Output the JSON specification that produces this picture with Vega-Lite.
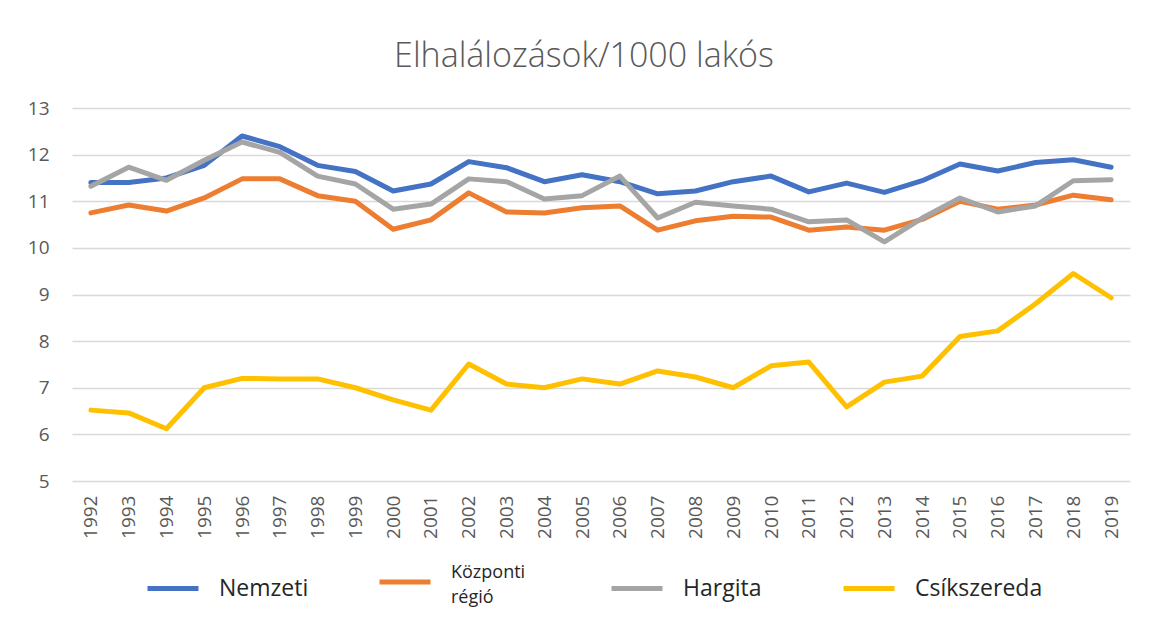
{
  "$schema": "https://vega.github.io/schema/vega-lite/v6.json",
  "width": 1058,
  "height": 373,
  "autosize": {"type": "none"},
  "padding": {"left": 72, "top": 108, "right": 20, "bottom": 138},
  "background": "white",
  "title": {
    "text": "Elhalálozások/1000 lakós",
    "font": "Open Sans",
    "fontSize": 34,
    "fontWeight": 300,
    "color": "#595959",
    "anchor": "middle",
    "offset": 25,
    "dx": -17
  },
  "config": {
    "view": {"stroke": null},
    "axis": {
      "labelFont": "Open Sans",
      "labelFontSize": 19,
      "labelColor": "#595959",
      "gridColor": "#d9d9d9",
      "gridWidth": 1.5,
      "domain": false,
      "ticks": false
    }
  },
  "data": {
    "values": [
      {"year": "1992", "series": "Nemzeti", "value": 11.4},
      {"year": "1993", "series": "Nemzeti", "value": 11.4},
      {"year": "1994", "series": "Nemzeti", "value": 11.5},
      {"year": "1995", "series": "Nemzeti", "value": 11.77},
      {"year": "1996", "series": "Nemzeti", "value": 12.4},
      {"year": "1997", "series": "Nemzeti", "value": 12.17},
      {"year": "1998", "series": "Nemzeti", "value": 11.77},
      {"year": "1999", "series": "Nemzeti", "value": 11.64},
      {"year": "2000", "series": "Nemzeti", "value": 11.22},
      {"year": "2001", "series": "Nemzeti", "value": 11.37},
      {"year": "2002", "series": "Nemzeti", "value": 11.85},
      {"year": "2003", "series": "Nemzeti", "value": 11.72},
      {"year": "2004", "series": "Nemzeti", "value": 11.42},
      {"year": "2005", "series": "Nemzeti", "value": 11.57},
      {"year": "2006", "series": "Nemzeti", "value": 11.42},
      {"year": "2007", "series": "Nemzeti", "value": 11.16},
      {"year": "2008", "series": "Nemzeti", "value": 11.22},
      {"year": "2009", "series": "Nemzeti", "value": 11.42},
      {"year": "2010", "series": "Nemzeti", "value": 11.54},
      {"year": "2011", "series": "Nemzeti", "value": 11.2},
      {"year": "2012", "series": "Nemzeti", "value": 11.39},
      {"year": "2013", "series": "Nemzeti", "value": 11.19},
      {"year": "2014", "series": "Nemzeti", "value": 11.44},
      {"year": "2015", "series": "Nemzeti", "value": 11.8},
      {"year": "2016", "series": "Nemzeti", "value": 11.65},
      {"year": "2017", "series": "Nemzeti", "value": 11.83},
      {"year": "2018", "series": "Nemzeti", "value": 11.89},
      {"year": "2019", "series": "Nemzeti", "value": 11.73},
      {"year": "1992", "series": "Központi régió", "value": 10.75},
      {"year": "1993", "series": "Központi régió", "value": 10.92},
      {"year": "1994", "series": "Központi régió", "value": 10.79},
      {"year": "1995", "series": "Központi régió", "value": 11.07},
      {"year": "1996", "series": "Központi régió", "value": 11.48},
      {"year": "1997", "series": "Központi régió", "value": 11.48},
      {"year": "1998", "series": "Központi régió", "value": 11.12},
      {"year": "1999", "series": "Központi régió", "value": 11.0},
      {"year": "2000", "series": "Központi régió", "value": 10.4},
      {"year": "2001", "series": "Központi régió", "value": 10.6},
      {"year": "2002", "series": "Központi régió", "value": 11.18},
      {"year": "2003", "series": "Központi régió", "value": 10.77},
      {"year": "2004", "series": "Központi régió", "value": 10.75},
      {"year": "2005", "series": "Központi régió", "value": 10.86},
      {"year": "2006", "series": "Központi régió", "value": 10.9},
      {"year": "2007", "series": "Központi régió", "value": 10.38},
      {"year": "2008", "series": "Központi régió", "value": 10.58},
      {"year": "2009", "series": "Központi régió", "value": 10.68},
      {"year": "2010", "series": "Központi régió", "value": 10.66},
      {"year": "2011", "series": "Központi régió", "value": 10.38},
      {"year": "2012", "series": "Központi régió", "value": 10.45},
      {"year": "2013", "series": "Központi régió", "value": 10.38},
      {"year": "2014", "series": "Központi régió", "value": 10.61},
      {"year": "2015", "series": "Központi régió", "value": 11.0},
      {"year": "2016", "series": "Központi régió", "value": 10.83},
      {"year": "2017", "series": "Központi régió", "value": 10.92},
      {"year": "2018", "series": "Központi régió", "value": 11.13},
      {"year": "2019", "series": "Központi régió", "value": 11.03},
      {"year": "1992", "series": "Hargita", "value": 11.32},
      {"year": "1993", "series": "Hargita", "value": 11.73},
      {"year": "1994", "series": "Hargita", "value": 11.45},
      {"year": "1995", "series": "Hargita", "value": 11.88},
      {"year": "1996", "series": "Hargita", "value": 12.27},
      {"year": "1997", "series": "Hargita", "value": 12.05},
      {"year": "1998", "series": "Hargita", "value": 11.54},
      {"year": "1999", "series": "Hargita", "value": 11.37},
      {"year": "2000", "series": "Hargita", "value": 10.83},
      {"year": "2001", "series": "Hargita", "value": 10.94},
      {"year": "2002", "series": "Hargita", "value": 11.48},
      {"year": "2003", "series": "Hargita", "value": 11.42},
      {"year": "2004", "series": "Hargita", "value": 11.05},
      {"year": "2005", "series": "Hargita", "value": 11.12},
      {"year": "2006", "series": "Hargita", "value": 11.54},
      {"year": "2007", "series": "Hargita", "value": 10.64},
      {"year": "2008", "series": "Hargita", "value": 10.98},
      {"year": "2009", "series": "Hargita", "value": 10.9},
      {"year": "2010", "series": "Hargita", "value": 10.83},
      {"year": "2011", "series": "Hargita", "value": 10.56},
      {"year": "2012", "series": "Hargita", "value": 10.6},
      {"year": "2013", "series": "Hargita", "value": 10.13},
      {"year": "2014", "series": "Hargita", "value": 10.64},
      {"year": "2015", "series": "Hargita", "value": 11.07},
      {"year": "2016", "series": "Hargita", "value": 10.77},
      {"year": "2017", "series": "Hargita", "value": 10.9},
      {"year": "2018", "series": "Hargita", "value": 11.44},
      {"year": "2019", "series": "Hargita", "value": 11.46},
      {"year": "1992", "series": "Csíkszereda", "value": 6.52},
      {"year": "1993", "series": "Csíkszereda", "value": 6.46},
      {"year": "1994", "series": "Csíkszereda", "value": 6.12},
      {"year": "1995", "series": "Csíkszereda", "value": 7.0},
      {"year": "1996", "series": "Csíkszereda", "value": 7.2},
      {"year": "1997", "series": "Csíkszereda", "value": 7.19},
      {"year": "1998", "series": "Csíkszereda", "value": 7.19},
      {"year": "1999", "series": "Csíkszereda", "value": 7.0},
      {"year": "2000", "series": "Csíkszereda", "value": 6.74},
      {"year": "2001", "series": "Csíkszereda", "value": 6.52},
      {"year": "2002", "series": "Csíkszereda", "value": 7.51},
      {"year": "2003", "series": "Csíkszereda", "value": 7.08},
      {"year": "2004", "series": "Csíkszereda", "value": 7.0},
      {"year": "2005", "series": "Csíkszereda", "value": 7.19},
      {"year": "2006", "series": "Csíkszereda", "value": 7.08},
      {"year": "2007", "series": "Csíkszereda", "value": 7.36},
      {"year": "2008", "series": "Csíkszereda", "value": 7.23},
      {"year": "2009", "series": "Csíkszereda", "value": 7.0},
      {"year": "2010", "series": "Csíkszereda", "value": 7.47},
      {"year": "2011", "series": "Csíkszereda", "value": 7.55},
      {"year": "2012", "series": "Csíkszereda", "value": 6.59},
      {"year": "2013", "series": "Csíkszereda", "value": 7.12},
      {"year": "2014", "series": "Csíkszereda", "value": 7.25},
      {"year": "2015", "series": "Csíkszereda", "value": 8.1},
      {"year": "2016", "series": "Csíkszereda", "value": 8.22},
      {"year": "2017", "series": "Csíkszereda", "value": 8.8},
      {"year": "2018", "series": "Csíkszereda", "value": 9.45},
      {"year": "2019", "series": "Csíkszereda", "value": 8.93}
    ]
  },
  "mark": {"type": "line", "strokeWidth": 5, "strokeCap": "round", "strokeJoin": "round"},
  "encoding": {
    "x": {
      "field": "year",
      "type": "ordinal",
      "scale": {"type": "point", "padding": 0.5},
      "axis": {"title": null, "labelAngle": -90, "grid": false, "labelPadding": 14}
    },
    "y": {
      "field": "value",
      "type": "quantitative",
      "scale": {"domain": [5, 13], "nice": false, "zero": false},
      "axis": {"title": null, "values": [5, 6, 7, 8, 9, 10, 11, 12, 13], "labelPadding": 23}
    },
    "color": {
      "field": "series",
      "type": "nominal",
      "sort": ["Nemzeti", "Központi régió", "Hargita", "Csíkszereda"],
      "scale": {
        "domain": ["Nemzeti", "Központi régió", "Hargita", "Csíkszereda"],
        "range": ["#4472C4", "#ED7D31", "#A5A5A5", "#FFC000"]
      },
      "legend": {
        "title": null,
        "orient": "none",
        "legendX": 73,
        "legendY": 446,
        "direction": "horizontal",
        "columns": 4,
        "gridAlign": "all",
        "columnPadding": 22,
        "symbolType": "stroke",
        "symbolSize": 2600,
        "symbolStrokeWidth": 5,
        "labelFont": "Open Sans",
        "labelFontSize": {"expr": "datum.label == 'Központi régió' ? 18 : 23"},
        "labelBaseline": {"expr": "datum.label == 'Központi régió' ? 'bottom' : 'middle'"},
        "labelColor": "#262626",
        "labelOffset": 18,
        "labelExpr": "datum.label == 'Központi régió' ? ['Központi', 'régió'] : datum.label",
        "encode": {"labels": {"update": {"lineHeight": {"value": 25}}}}
      }
    }
  }
}
